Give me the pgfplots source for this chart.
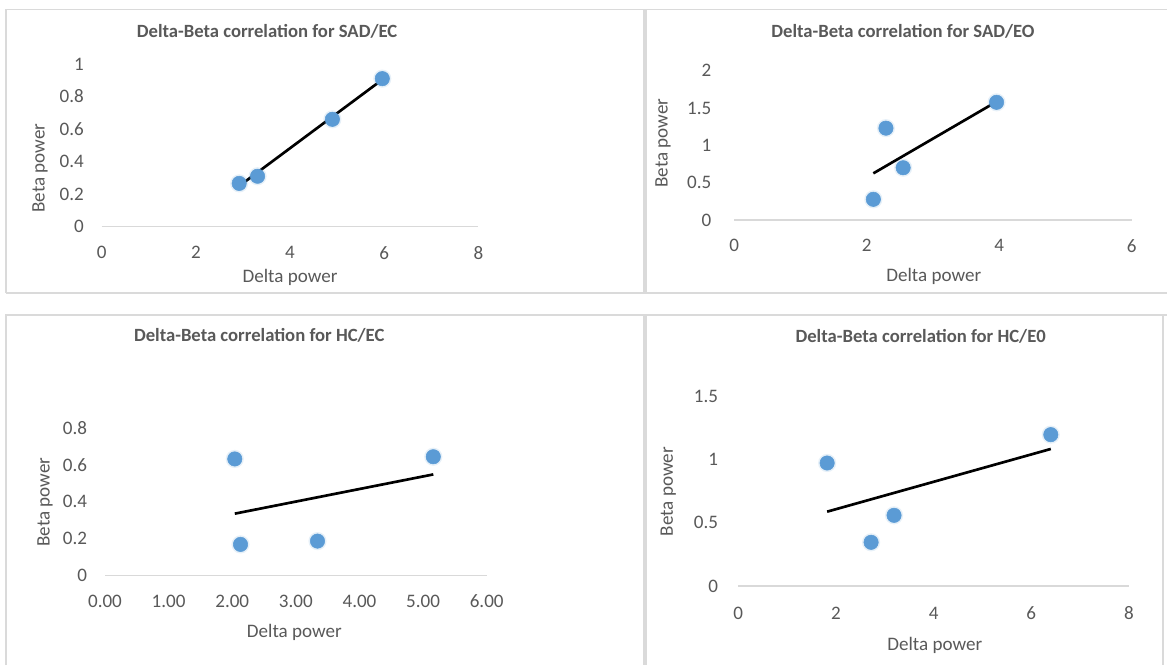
\documentclass[border=0pt]{standalone}
\usepackage{fontspec}
\setmainfont{Carlito}
\usepackage{pgfplots}
\pgfplotsset{compat=1.18}
\definecolor{txt}{HTML}{595959}
\definecolor{pt}{HTML}{5B9BD5}
\definecolor{frm}{HTML}{DADADA}
\definecolor{gridc}{HTML}{D9D9D9}
\pgfplotsset{
 panel/.style={
  scale only axis,
  axis y line=left, axis x line=bottom,
  y axis line style={draw=none},
  x axis line style={draw=gridc, line width=1pt, -},
  major tick length=0pt,
  tick style={draw=none},
  scaled ticks=false,
  /pgf/number format/assume math mode=true,
  ticklabel style={font=\fontsize{14.3}{16}\selectfont, text=txt, inner sep=0pt},
  title style={font=\fontsize{14}{16}\selectfont\bfseries, text=txt, anchor=center},
  label style={font=\fontsize{14.3}{16}\selectfont, text=txt},
  clip=false,
 },
 halo/.style={only marks, mark=*, color=pt, mark size=6.8pt, mark options={solid, fill=pt, draw=pt, draw opacity=0, fill opacity=0.15}},
 dots/.style={only marks, mark=*, color=pt, mark size=5.4pt, mark options={solid, fill=pt, draw=pt}},
 trend/.style={black, line width=2pt, no marks},
}
\begin{document}
\begin{tikzpicture}
\useasboundingbox[fill=white] (0,0) rectangle (875.25pt,-498.75pt);
% frames
\draw[frm, line width=1.1pt] (4.5pt,-219.5pt) -- (4.5pt,-7.1pt) -- (875.25pt,-7.1pt);
\draw[frm, line width=1.5pt] (4.5pt,-219.5pt) -- (875.25pt,-219.5pt);
\draw[frm, line width=1.1pt] (4.5pt,-498.75pt) -- (4.5pt,-236.25pt) -- (875.25pt,-236.25pt);
\draw[frm, line width=3pt] (483.75pt,-7.1pt) -- (483.75pt,-219.5pt);
\draw[frm, line width=3pt] (483.75pt,-236.25pt) -- (483.75pt,-498.75pt);
\draw[frm, line width=1pt] (872.25pt,-236.25pt) -- (872.25pt,-498.75pt);

% Panel 1
\begin{axis}[panel, at={(76.3pt,-170pt)}, anchor=south west,
  width=282.45pt, height=122pt,
  xmin=0, xmax=8, ymin=0, ymax=1,
  xtick={0,2,4,6,8}, ytick={0,0.2,0.4,0.6,0.8,1},
  xticklabel style={anchor=center, yshift=-19.5pt},
  yticklabel style={anchor=east, xshift=-13.3pt},
  title={Delta-Beta correlation for SAD/EC},
  title style={at={(axis description cs:0.439,1.154)}},
  xlabel={Delta power}, xlabel style={at={(axis description cs:0.50,-0.313)}, anchor=center},
  ylabel={Beta power}, ylabel style={at={(axis description cs:-0.164,0.361)}, anchor=center},
]
\addplot[halo] coordinates {(2.92,0.266) (3.31,0.31) (4.90,0.66) (5.96,0.91)};
\addplot[dots] coordinates {(2.92,0.266) (3.31,0.31) (4.90,0.66) (5.96,0.91)};
\addplot[trend] coordinates {(2.92,0.250) (5.96,0.904)};
\end{axis}

% Panel 2
\begin{axis}[panel, at={(550.7pt,-165pt)}, anchor=south west,
  width=298.05pt, height=112pt,
  xmin=0, xmax=6, ymin=0, ymax=2,
  xtick={0,2,4,6}, ytick={0,0.5,1,1.5,2},
  xticklabel style={anchor=center, yshift=-19.3pt},
  yticklabel style={anchor=east, xshift=-17pt},
  title={Delta-Beta correlation for SAD/EO},
  title style={at={(axis description cs:0.4245,1.212)}},
  xlabel={Delta power}, xlabel style={at={(axis description cs:0.502,-0.380)}, anchor=center},
  ylabel={Beta power}, ylabel style={at={(axis description cs:-0.179,0.514)}, anchor=center},
]
\addplot[halo] coordinates {(2.10,0.277) (2.29,1.23) (2.55,0.70) (3.96,1.576)};
\addplot[dots] coordinates {(2.10,0.277) (2.29,1.23) (2.55,0.70) (3.96,1.576)};
\addplot[trend] coordinates {(2.10,0.625) (3.96,1.585)};
\end{axis}

% Panel 3
\begin{axis}[panel, at={(78.75pt,-431.5pt)}, anchor=south west,
  width=286.3pt, height=110.5pt,
  xmin=0, xmax=6, ymin=0, ymax=0.8,
  xtick={0,1,2,3,4,5,6}, ytick={0,0.2,0.4,0.6,0.8},
  xticklabel style={anchor=center, yshift=-19.3pt, /pgf/number format/.cd, fixed, fixed zerofill, precision=2},
  yticklabel style={anchor=east, xshift=-13.3pt},
  title={Delta-Beta correlation for HC/EC},
  title style={at={(axis description cs:0.404,1.575)}},
  xlabel={Delta power}, xlabel style={at={(axis description cs:0.496,-0.387)}, anchor=center},
  ylabel={Beta power}, ylabel style={at={(axis description cs:-0.157,0.496)}, anchor=center},
]
\addplot[halo] coordinates {(2.04,0.632) (2.13,0.168) (3.34,0.186) (5.16,0.644)};
\addplot[dots] coordinates {(2.04,0.632) (2.13,0.168) (3.34,0.186) (5.16,0.644)};
\addplot[trend] coordinates {(2.04,0.335) (5.16,0.548)};
\end{axis}

% Panel 4
\begin{axis}[panel, at={(553.7pt,-439.5pt)}, anchor=south west,
  width=293pt, height=142.5pt,
  xmin=0, xmax=8, ymin=0, ymax=1.5,
  xtick={0,2,4,6,8}, ytick={0,0.5,1,1.5},
  xticklabel style={anchor=center, yshift=-20.5pt},
  yticklabel style={anchor=east, xshift=-15pt},
  title={Delta-Beta correlation for HC/E0},
  title style={at={(axis description cs:0.467,1.272)}},
  xlabel={Delta power}, xlabel style={at={(axis description cs:0.503,-0.311)}, anchor=center},
  ylabel={Beta power}, ylabel style={at={(axis description cs:-0.179,0.496)}, anchor=center},
]
\addplot[halo] coordinates {(1.82,0.971) (2.72,0.345) (3.19,0.558) (6.40,1.195)};
\addplot[dots] coordinates {(1.82,0.971) (2.72,0.345) (3.19,0.558) (6.40,1.195)};
\addplot[trend] coordinates {(1.82,0.587) (6.40,1.082)};
\end{axis}
\end{tikzpicture}
\end{document}
